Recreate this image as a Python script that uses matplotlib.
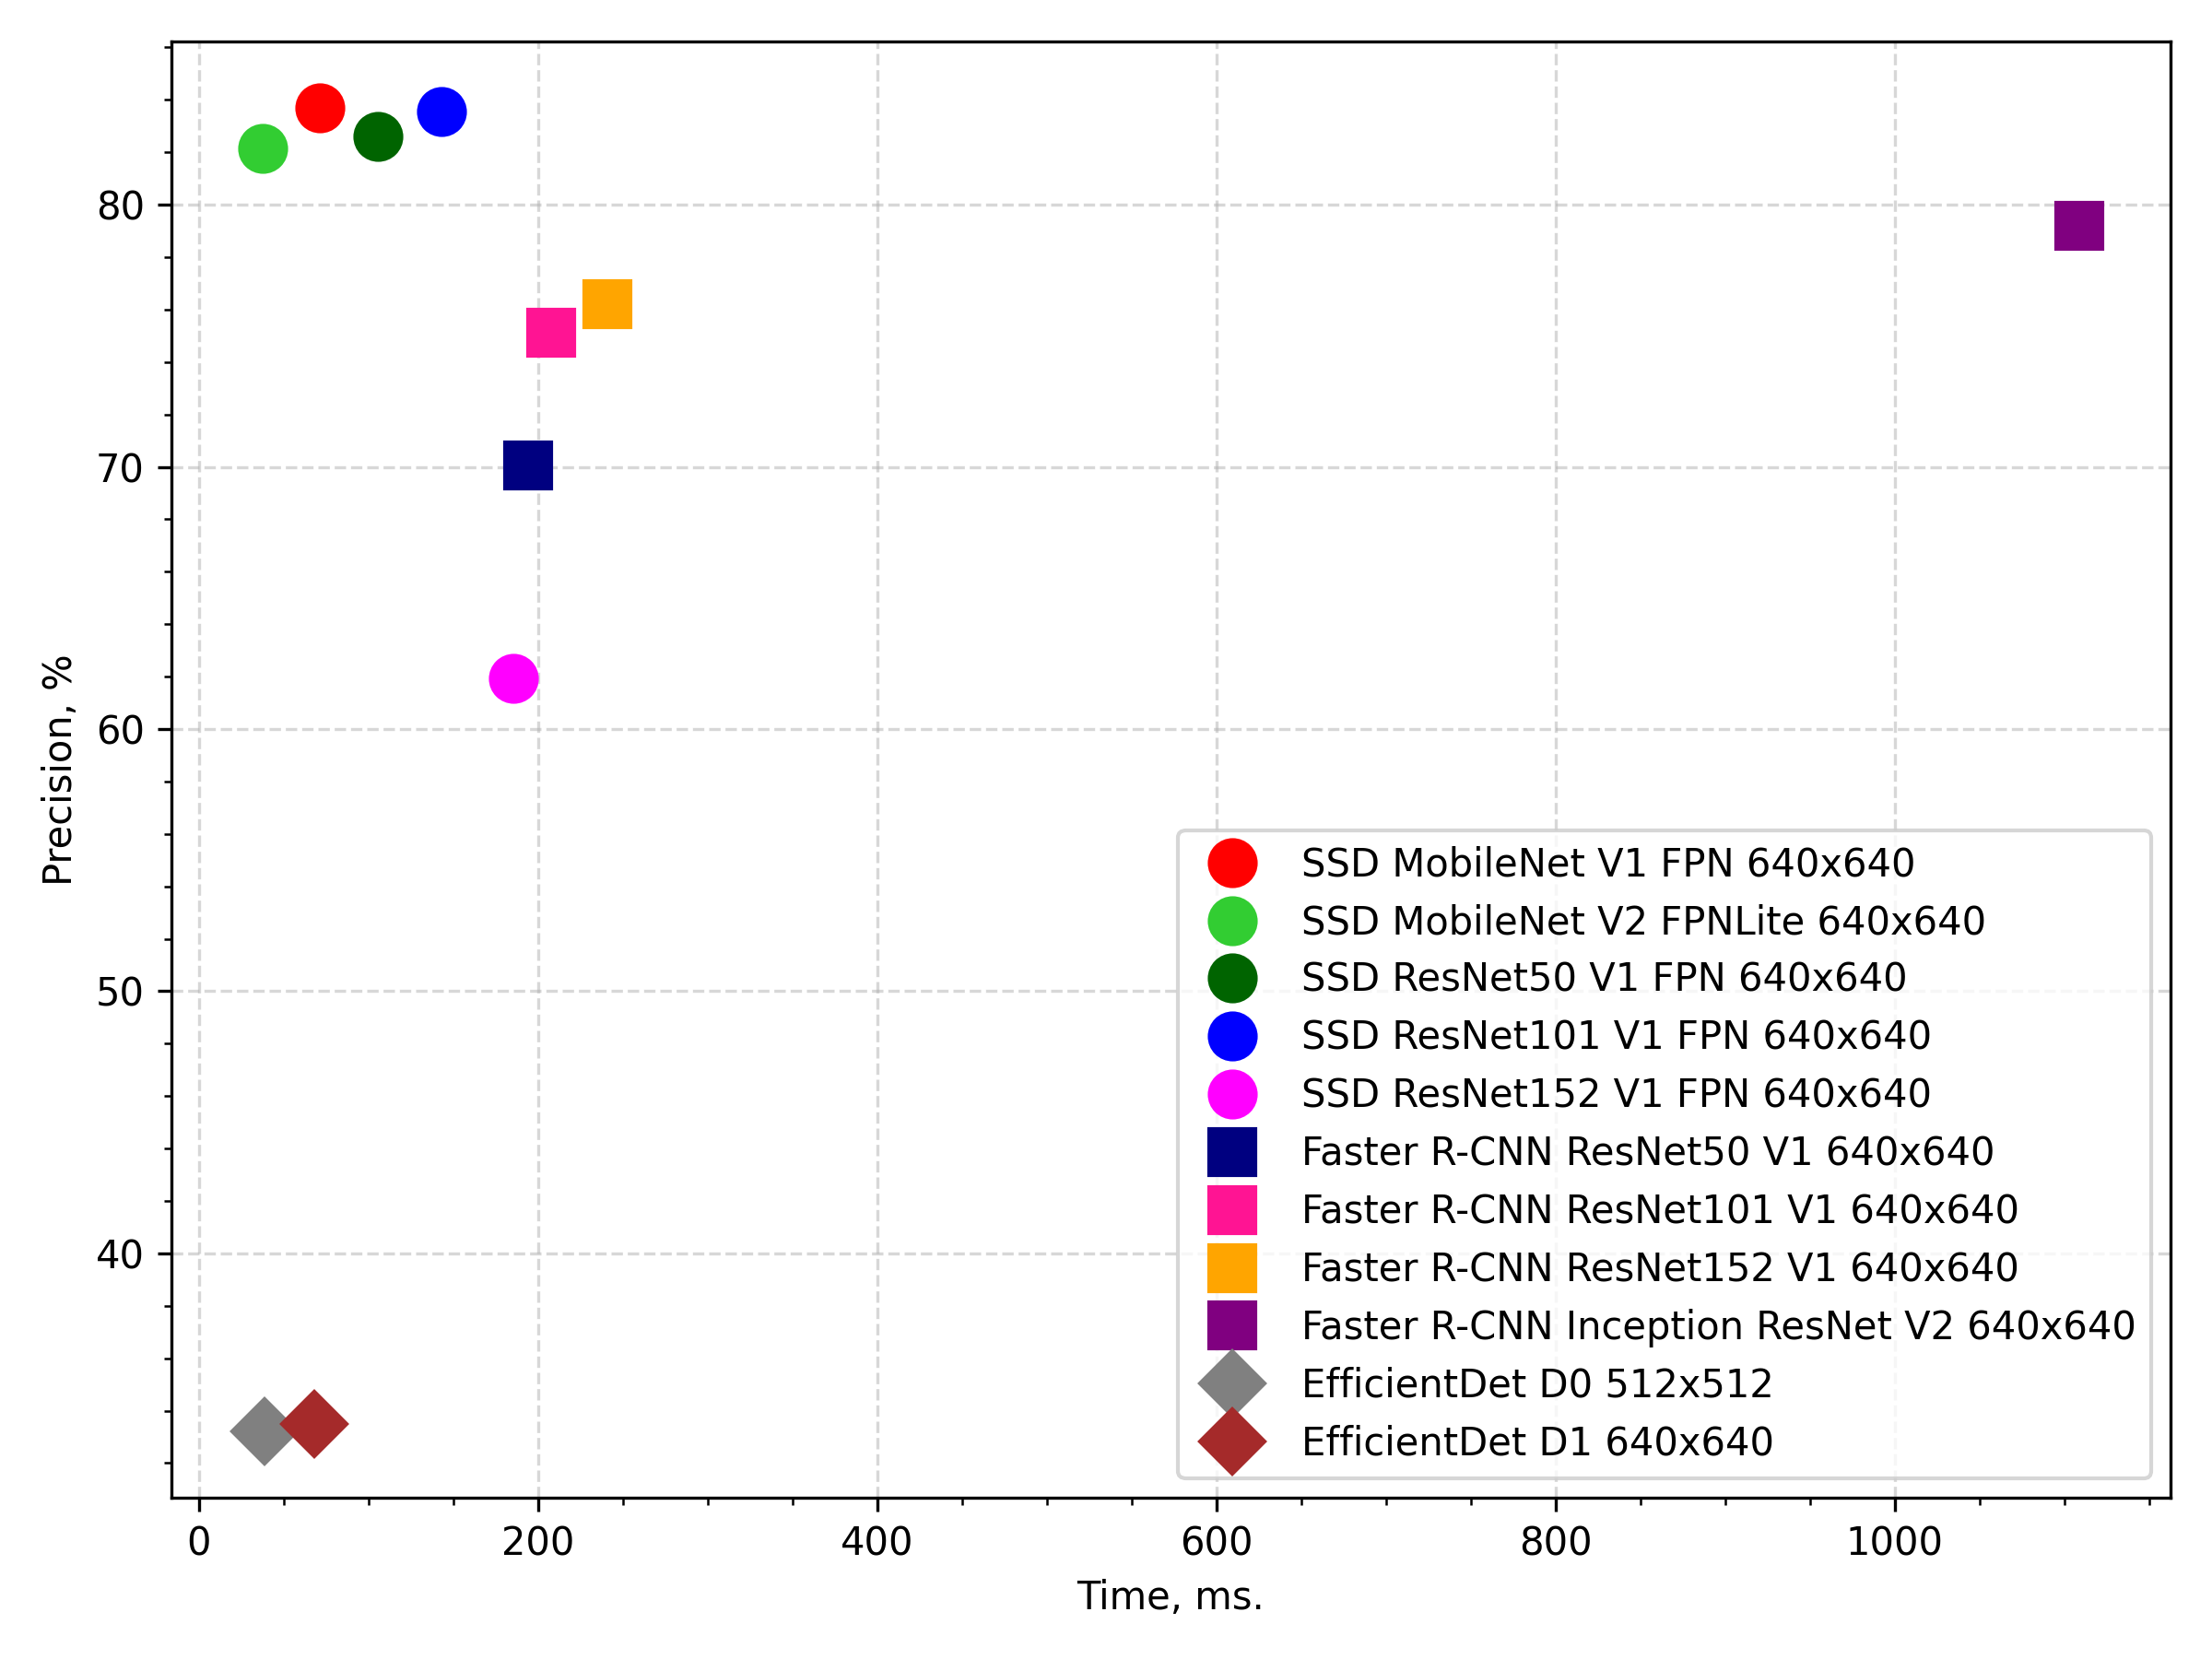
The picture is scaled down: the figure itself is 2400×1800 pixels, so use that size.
import matplotlib
matplotlib.use("Agg")
import matplotlib.pyplot as plt

models = [
    "SSD MobileNet V1 FPN 640x640",
    "SSD MobileNet V2 FPNLite 640x640",
    "SSD ResNet50 V1 FPN 640x640",
    "SSD ResNet101 V1 FPN 640x640",
    "SSD ResNet152 V1 FPN 640x640",
    "Faster R-CNN ResNet50 V1 640x640",
    "Faster R-CNN ResNet101 V1 640x640",
    "Faster R-CNN ResNet152 V1 640x640",
    "Faster R-CNN Inception ResNet V2 640x640",
    "EfficientDet D0 512x512",
    "EfficientDet D1 640x640",
]
times = [71.5, 37.5, 105.5, 143, 185.5, 194, 208, 241, 1109, 39, 68]
precision = [83.7, 82.15, 82.6, 83.55, 61.95, 70.05, 75.1, 76.2, 79.2, 33.2, 33.5]
colors = ["red", "limegreen", "darkgreen", "blue", "magenta", "navy",
          "deeppink", "orange", "purple", "gray", "brown"]
markers = ["o"] * 5 + ["s"] * 4 + ["D"] * 2

fig, ax = plt.subplots(figsize=(8, 6), dpi=300)
for name, t, p, c, m in zip(models, times, precision, colors, markers):
    ax.plot(t, p, linestyle="none", marker=m, color=c, markersize=12, label=name)

ax.set_xlabel("Time, ms.")
ax.set_ylabel("Precision, %")
ax.grid(True, linestyle="--", alpha=0.5)
ax.minorticks_on()
ax.legend(loc="lower right")
fig.tight_layout()
fig.savefig("out.png", dpi=300)
